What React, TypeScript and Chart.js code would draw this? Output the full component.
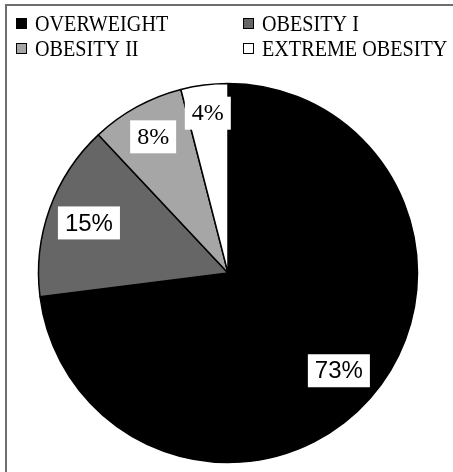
import React, { useEffect, useRef } from "react";
import { Chart, registerables } from "chart.js";

Chart.register(...registerables);

// Share of each weight class (percent)
const categories = ["OVERWEIGHT", "OBESITY I", "OBESITY II", "EXTREME OBESITY"];
const shares = [73, 15, 8, 4];
const sliceColors = ["#000000", "#666666", "#a6a6a6", "#ffffff"];

// Where each value label sits, as a fraction of the pie radius
const labelRadius = [0.78, 0.78, 0.82, 0.85];
const SANS = "'Liberation Sans', Arial, sans-serif";
const SERIF = "'Liberation Serif', 'Times New Roman', serif";
const labelFonts = [`24px ${SANS}`, `24px ${SANS}`, `24px ${SERIF}`, `24px ${SERIF}`];

const W = 453;
const H = 472;

// White page with the grey frame lines along the top and left
const framePlugin = {
  id: "frame",
  beforeDraw(chart: any) {
    const ctx = chart.ctx as CanvasRenderingContext2D;
    ctx.save();
    ctx.fillStyle = "#ffffff";
    ctx.fillRect(0, 0, chart.width, chart.height);
    ctx.strokeStyle = "#6e6e6e";
    ctx.lineWidth = 2;
    ctx.beginPath();
    ctx.moveTo(6, chart.height);
    ctx.lineTo(6, 5);
    ctx.lineTo(chart.width, 5);
    ctx.stroke();
    ctx.restore();
  },
};

// Two-column legend at the top
const gridLegendPlugin = {
  id: "gridLegend",
  afterDraw(chart: any) {
    const ctx = chart.ctx as CanvasRenderingContext2D;
    const cols = [16, 243];
    const rows = [18, 43];
    ctx.save();
    categories.forEach((name, i) => {
      const x = cols[i % 2];
      const y = rows[Math.floor(i / 2)];
      ctx.fillStyle = sliceColors[i];
      ctx.fillRect(x, y, 11, 11);
      ctx.strokeStyle = "#000";
      ctx.lineWidth = 1;
      ctx.strokeRect(x + 0.5, y + 0.5, 10, 10);
      ctx.save();
      ctx.translate(x + 19, y + 13);
      ctx.scale(0.84, 1);
      ctx.font = `24px ${SERIF}`;
      ctx.textBaseline = "alphabetic";
      ctx.textAlign = "left";
      ctx.fillStyle = "#000";
      ctx.fillText(name, 0, 0);
      ctx.restore();
    });
    ctx.restore();
  },
};

// Percent labels in white boxes inside each slice
const valueLabelPlugin = {
  id: "valueLabels",
  afterDatasetsDraw(chart: any) {
    const ctx = chart.ctx as CanvasRenderingContext2D;
    const meta = chart.getDatasetMeta(0);
    ctx.save();
    meta.data.forEach((arc: any, i: number) => {
      const { x, y, startAngle, endAngle, outerRadius } = arc.getProps(
        ["x", "y", "startAngle", "endAngle", "outerRadius"],
        true
      );
      const mid = (startAngle + endAngle) / 2;
      const r = outerRadius * labelRadius[i];
      const cx = x + Math.cos(mid) * r;
      const cy = y + Math.sin(mid) * r;
      const text = `${shares[i]}%`;
      ctx.font = labelFonts[i];
      const tw = ctx.measureText(text).width;
      const bw = tw + 14;
      const bh = 33;
      ctx.fillStyle = "#ffffff";
      ctx.fillRect(cx - bw / 2, cy - bh / 2, bw, bh);
      ctx.fillStyle = "#000";
      ctx.textAlign = "center";
      ctx.textBaseline = "middle";
      ctx.fillText(text, cx, cy + 1);
    });
    ctx.restore();
  },
};

function PieChart() {
  const canvasRef = useRef<HTMLCanvasElement | null>(null);

  useEffect(() => {
    if (!canvasRef.current) return;
    const chart = new Chart(canvasRef.current, {
      type: "pie",
      data: {
        labels: categories,
        datasets: [
          {
            data: shares,
            backgroundColor: sliceColors,
            borderColor: "#000000",
            borderWidth: 1.5,
            radius: 189.5,
          } as any,
        ],
      },
      options: {
        responsive: false,
        animation: false,
        events: [],
        layout: { padding: { top: 80, bottom: 6, left: 38, right: 35 } },
        plugins: {
          legend: { display: false },
          tooltip: { enabled: false },
          title: { display: false },
        },
      },
      plugins: [framePlugin, valueLabelPlugin, gridLegendPlugin],
    });
    return () => chart.destroy();
  }, []);

  return <canvas ref={canvasRef} width={W} height={H} />;
}

export default function App() {
  return (
    <div
      style={{
        position: "fixed",
        left: 0,
        top: 0,
        width: W,
        height: H,
        background: "#fff",
      }}
    >
      <PieChart />
    </div>
  );
}
